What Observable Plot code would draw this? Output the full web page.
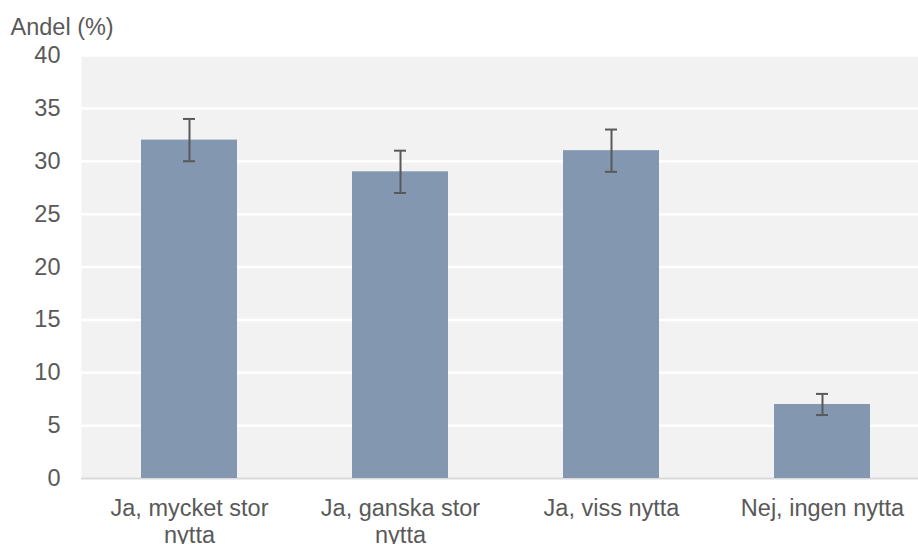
<!DOCTYPE html>
<html>
<head>
<meta charset="utf-8">
<script src="https://cdn.jsdelivr.net/npm/d3@7"></script>
<script src="https://cdn.jsdelivr.net/npm/@observablehq/plot@0.6"></script>
<style>
  html, body { margin: 0; padding: 0; background: #fff; }
  body { width: 918px; height: 544px; overflow: hidden; }
</style>
</head>
<body>
<div id="chart"></div>
<script>
const categories = ["Ja, mycket stor nytta", "Ja, ganska stor nytta", "Ja, viss nytta", "Nej, ingen nytta"];
const tickLabels = ["Ja, mycket stor\nnytta", "Ja, ganska stor\nnytta", "Ja, viss nytta", "Nej, ingen nytta"];
const values = [32, 29, 31, 7];
const lower = [30, 27, 29, 6];
const upper = [34, 31, 33, 8];
const yTicks = [0, 5, 10, 15, 20, 25, 30, 35, 40];
const yLabel = "Andel (%)";

const data = categories.map((c, i) => ({cat: c, value: values[i], lo: lower[i], hi: upper[i]}));
const labelOf = new Map(categories.map((c, i) => [c, tickLabels[i]]));

const font = "'Liberation Sans', Arial, sans-serif";
const textColor = "#595959";
const fs = 23.5;

const plot = Plot.plot({
  width: 918,
  height: 544,
  marginLeft: 81,
  marginRight: 0,
  marginTop: 55,
  marginBottom: 66,
  style: {fontFamily: font, fontSize: fs + "px", color: textColor, background: "#fff"},
  x: {domain: categories, range: [81, 929], paddingInner: 0.547, paddingOuter: 0.2736, label: null},
  y: {domain: [0, 40], label: null},
  marks: [
    Plot.frame({fill: "#f2f2f2", stroke: null}),
    Plot.ruleY(yTicks.filter(d => d > 0), {stroke: "#ffffff", strokeWidth: 2.5}),
    Plot.ruleY([0], {stroke: "#d9d9d9", strokeWidth: 2}),
    Plot.barY(data, {x: "cat", y: "value", fill: "#8497b0"}),
    Plot.ruleX(data, {x: "cat", y1: "lo", y2: "hi", stroke: "#595959", strokeWidth: 2}),
    Plot.tickY(data, {x: "cat", y: "lo", stroke: "#595959", strokeWidth: 2, insetLeft: 42, insetRight: 42}),
    Plot.tickY(data, {x: "cat", y: "hi", stroke: "#595959", strokeWidth: 2, insetLeft: 42, insetRight: 42}),
    Plot.axisY({ticks: yTicks, tickSize: 0, tickPadding: 21, fontSize: fs, fill: textColor, label: null}),
    Plot.axisX({tickSize: 0, tickPadding: 19, fontSize: fs, lineHeight: 1.13, fill: textColor, label: null, tickFormat: d => labelOf.get(d), lineAnchor: "top"}),
    Plot.text([yLabel], {frameAnchor: "top-left", text: d => d, textAnchor: "start", lineAnchor: "bottom", dx: -71, dy: -21, fontSize: fs, fill: textColor})
  ]
});
document.getElementById("chart").appendChild(plot);
</script>
</body>
</html>
